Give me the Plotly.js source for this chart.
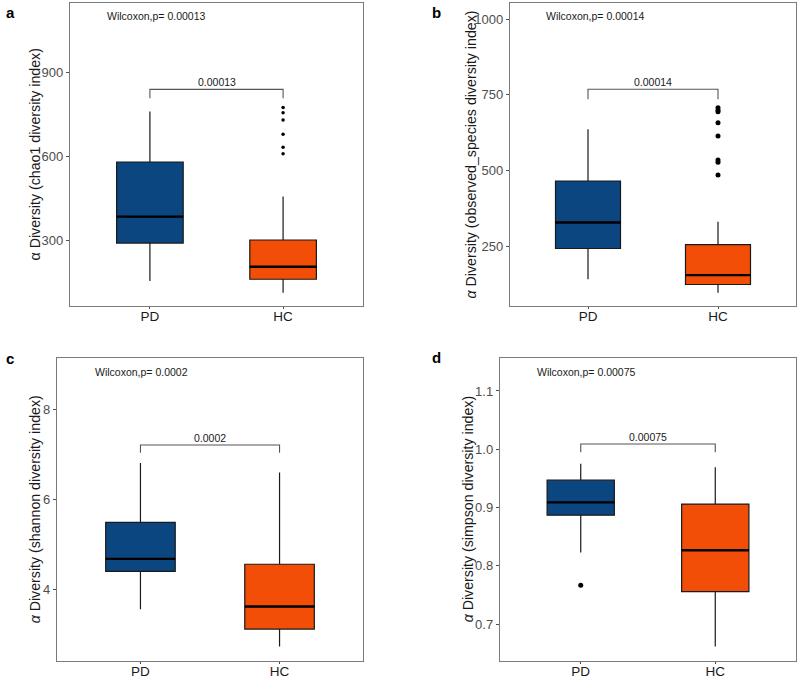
<!DOCTYPE html>
<html>
<head>
<meta charset="utf-8">
<script src="https://cdn.plot.ly/plotly-3.0.1.min.js"></script>
<style>html,body{margin:0;padding:0;background:#fff;}#chart{width:800px;height:679px;}</style>
</head>
<body>
<div id="chart"></div>
<script>
// ---- data ----
const groups = ['PD', 'HC'];
const groupColors = ['#0B4680', '#F24E07'];
const panelLetters = ['a', 'b', 'c', 'd'];
const yTitles = ['α Diversity (chao1 diversity index)', '<i>α</i> Diversity (observed_species diversity index)',
                 '<i>α</i> Diversity (shannon diversity index)', '<i>α</i> Diversity (simpson diversity index)'];
const pLabels = ['0.00013', '0.00014', '0.0002', '0.00075'];
// [PD, HC]
const q1Vals = [[289, 159], [242, 123], [4.41, 3.13], [0.887, 0.756]];
const medianVals = [[384, 204], [328, 154], [4.69, 3.63], [0.909, 0.827]];
const q3Vals = [[580, 300], [465, 255], [5.50, 4.57], [0.947, 0.906]];
const lowerVals = [[153, 111], [140, 96], [3.57, 2.74], [0.823, 0.662]];
const upperVals = [[761, 456], [636, 330], [6.82, 6.61], [0.975, 0.969]];
const outliersPD = [[], [], [], [0.767]];
const outliersHC = [[776, 757, 731, 680, 633, 610], [707, 699, 694, 657, 614, 534, 527, 485], [], []];
const bracketTop = [841, 768, 7.22, 1.009];
const bracketFoot = [809, 735, 7.05, 0.995];
const wilcoxY = [1105, 1010, 8.85, 1.133];
const yRanges = [[63, 1151], [52, 1053], [2.42, 9.16], [0.637, 1.157]];
const yTicks = [[300, 600, 900], [250, 500, 750, 1000], [4, 6, 8], [0.7, 0.8, 0.9, 1.0, 1.1]];
const yTickText = [['300', '600', '900'], ['250', '500', '750', '1000'], ['4', '6', '8'], ['0.7', '0.8', '0.9', '1.0', '1.1']];

// ---- layout geometry (paper fractions) ----
const W = 800, H = 679;
const xDomains = [[70 / W, 363 / W], [510 / W, 796 / W], [57 / W, 363 / W], [500 / W, 796 / W]];
const yDomains = [[1 - 306 / H, 1 - 3 / H], [1 - 306 / H, 1 - 3 / H], [1 - 661 / H, 1 - 357.7 / H], [1 - 661 / H, 1 - 357.7 / H]];
const titleX = [35, 471, 35, 468];
const letterPos = [[4, 12], [430, 12], [4, 358], [430, 357]];
const outlierSize = [3.5, 5, 5, 5];

const traces = [];
const shapes = [];
const annotations = [];
const layout = {
  width: W, height: H,
  margin: {l: 0, r: 0, t: 0, b: 0},
  paper_bgcolor: '#fff', plot_bgcolor: '#fff',
  showlegend: false,
  font: {family: 'Liberation Sans, Arial, sans-serif'},
  shapes: shapes, annotations: annotations
};

for (let p = 0; p < 4; p++) {
  const xa = 'x' + (p === 0 ? '' : p + 1);
  const ya = 'y' + (p === 0 ? '' : p + 1);
  for (let g = 0; g < 2; g++) {
    traces.push({
      type: 'box', xaxis: xa, yaxis: ya,
      x: [g + 1],
      q1: [q1Vals[p][g]], median: [medianVals[p][g]], q3: [q3Vals[p][g]],
      lowerfence: [lowerVals[p][g]], upperfence: [upperVals[p][g]],
      width: 0.5,
      fillcolor: groupColors[g],
      line: {color: '#1a1a1a', width: 1.2},
      whiskerwidth: 0,
      boxpoints: false,
      hoverinfo: 'skip'
    });
    // thick median line
    shapes.push({type: 'line', xref: xa, yref: ya,
      x0: g + 1 - 0.25, x1: g + 1 + 0.25, y0: medianVals[p][g], y1: medianVals[p][g],
      line: {color: '#000', width: 2.4}});
    const outs = g === 0 ? outliersPD[p] : outliersHC[p];
    if (outs.length) {
      traces.push({type: 'scatter', mode: 'markers', xaxis: xa, yaxis: ya,
        x: outs.map(() => g + 1), y: outs,
        marker: {color: '#000', size: outlierSize[p]}, hoverinfo: 'skip'});
    }
  }
  // bracket
  traces.push({type: 'scatter', mode: 'lines', xaxis: xa, yaxis: ya,
    x: [1, 1, 2, 2], y: [bracketFoot[p], bracketTop[p], bracketTop[p], bracketFoot[p]],
    line: {color: '#555', width: 1.1}, hoverinfo: 'skip'});
  annotations.push({xref: xa, yref: ya, x: 1.5, y: bracketTop[p], yanchor: 'bottom', yshift: -1,
    text: pLabels[p], showarrow: false, font: {size: 10.5, color: '#1a1a1a'}});
  annotations.push({xref: xa, yref: ya, x: 0.66, y: wilcoxY[p], xanchor: 'left', yanchor: 'middle',
    text: 'Wilcoxon,p= ' + pLabels[p], showarrow: false, font: {size: 10.5, color: '#1a1a1a'}});
  // y title
  annotations.push({xref: 'paper', yref: 'paper', x: titleX[p] / W,
    y: (yDomains[p][0] + yDomains[p][1]) / 2, xanchor: 'center', yanchor: 'middle',
    textangle: -90, text: yTitles[p], showarrow: false, font: {size: 14.2, color: '#1a1a1a'}});
  // panel letter
  annotations.push({xref: 'paper', yref: 'paper', x: letterPos[p][0] / W, y: 1 - letterPos[p][1] / H,
    xanchor: 'left', yanchor: 'middle', text: '<b>' + panelLetters[p] + '</b>', showarrow: false,
    font: {size: 15, color: '#000'}});

  const axisBase = {showline: true, mirror: true, linecolor: '#7a7a7a', linewidth: 1.2,
    showgrid: false, zeroline: false, ticks: 'outside', ticklen: 3, tickcolor: '#4d4d4d', fixedrange: true};
  layout['xaxis' + (p === 0 ? '' : p + 1)] = Object.assign({}, axisBase, {
    domain: xDomains[p], anchor: ya, range: [0.4, 2.6],
    tickmode: 'array', tickvals: [1, 2], ticktext: groups,
    ticklen: 2, ticklabelstandoff: -4,
    tickfont: {size: 13.5, color: '#1a1a1a'}
  });
  layout['yaxis' + (p === 0 ? '' : p + 1)] = Object.assign({}, axisBase, {
    domain: yDomains[p], anchor: xa, range: yRanges[p],
    tickmode: 'array', tickvals: yTicks[p], ticktext: yTickText[p],
    tickfont: {size: 13, color: '#4d4d4d'}
  });
}

Plotly.newPlot('chart', traces, layout, {staticPlot: true, displayModeBar: false});
</script>
</body>
</html>
